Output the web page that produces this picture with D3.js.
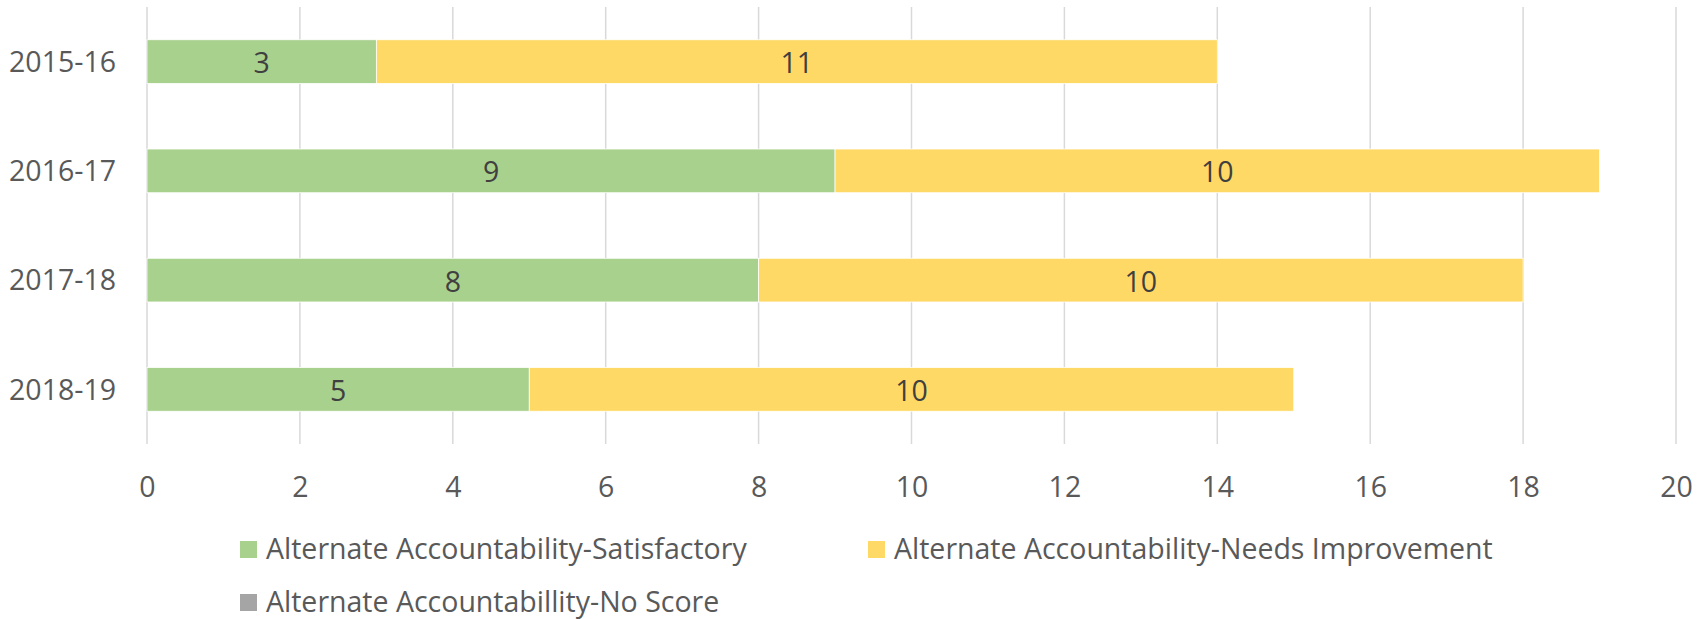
<!DOCTYPE html>
<html>
<head>
<meta charset="utf-8">
<script src="https://cdn.jsdelivr.net/npm/d3@7"></script>
<style>
  body { margin: 0; background: #fff; }
  text { font-family: "Open Sans", "Noto Sans", sans-serif; }
</style>
</head>
<body>
<script>
// chart data
var categories = ["2015-16", "2016-17", "2017-18", "2018-19"];
var seriesNames = [
  "Alternate Accountability-Satisfactory",
  "Alternate Accountability-Needs Improvement",
  "Alternate Accountabillity-No Score"
];
var satisfactory = [3, 9, 8, 5];
var needsImprovement = [11, 10, 10, 10];
var noScore = [0, 0, 0, 0];
var xTicks = [0, 2, 4, 6, 8, 10, 12, 14, 16, 18, 20];
var colors = ["#a9d18e", "#ffd966", "#a5a5a5"];

var W = 1707, H = 619;
var margin = {left: 147, right: 31, top: 7, bottom: 175};
var fontSize = 28.5;

var svg = d3.select("body").append("svg")
  .attr("width", W)
  .attr("height", H);

var x = d3.scaleLinear().domain([0, 20]).range([margin.left, W - margin.right]);
var y = d3.scaleBand().domain(categories)
  .range([margin.top, H - margin.bottom])
  .paddingInner(0.6).paddingOuter(0.3);

// gridlines
svg.append("g").selectAll("line").data(xTicks).enter().append("line")
  .attr("x1", function(d){ return x(d); })
  .attr("x2", function(d){ return x(d); })
  .attr("y1", margin.top)
  .attr("y2", H - margin.bottom)
  .attr("stroke", "#d9d9d9")
  .attr("stroke-width", 1.5);

// x axis labels (baseline ~497)
var xAxis = d3.axisBottom(x).tickValues(xTicks).tickSize(0).tickPadding(0);
var gx = svg.append("g")
  .attr("transform", "translate(0,497)")
  .call(xAxis);
gx.select(".domain").remove();
gx.selectAll("text")
  .attr("y", 0)
  .attr("dy", 0)
  .attr("font-size", fontSize)
  .attr("fill", "#595959")
  .style("font-family", "'Open Sans', sans-serif");

// y axis labels
var yAxis = d3.axisLeft(y).tickSize(0).tickPadding(31);
var gy = svg.append("g")
  .attr("transform", "translate(" + margin.left + ",0)")
  .call(yAxis);
gy.select(".domain").remove();
gy.selectAll("text")
  .attr("font-size", fontSize)
  .attr("fill", "#595959")
  .attr("dy", "0.36em")
  .style("font-family", "'Open Sans', sans-serif");

// stacked series
var rows = categories.map(function(c, i){
  return {cat: c, s0: satisfactory[i], s1: needsImprovement[i], s2: noScore[i]};
});
var stack = d3.stack().keys(["s0", "s1", "s2"]);
var layers = stack(rows);

var layer = svg.append("g").selectAll("g").data(layers).enter().append("g")
  .attr("fill", function(d, i){ return colors[i]; });

layer.selectAll("rect").data(function(d){ return d; }).enter().append("rect")
  .attr("x", function(d){ return x(d[0]); })
  .attr("y", function(d){ return y(d.data.cat); })
  .attr("width", function(d){ return x(d[1]) - x(d[0]); })
  .attr("height", y.bandwidth())
  .attr("stroke", "#fff")
  .attr("stroke-width", 0.75);

// data labels (skip zero values)
layer.selectAll("text").data(function(d){ return d; }).enter()
  .filter(function(d){ return d[1] - d[0] > 0; })
  .append("text")
  .attr("x", function(d){ return (x(d[0]) + x(d[1])) / 2; })
  .attr("y", function(d){ return y(d.data.cat) + y.bandwidth() / 2; })
  .attr("dy", "0.4em")
  .attr("text-anchor", "middle")
  .attr("font-size", fontSize)
  .attr("fill", "#404040")
  .text(function(d){ return d[1] - d[0]; });

// legend (two columns)
var legendX = 240, legendColW = 628, legendY = 559, legendRowH = 53;
var legend = svg.append("g").selectAll("g").data(seriesNames).enter().append("g")
  .attr("transform", function(d, i){
    return "translate(" + (legendX + (i % 2) * legendColW) + "," + (legendY + Math.floor(i / 2) * legendRowH) + ")";
  });
legend.append("rect")
  .attr("x", 0).attr("y", -18)
  .attr("width", 17).attr("height", 17)
  .attr("fill", function(d, i){ return colors[i]; });
legend.append("text")
  .attr("x", 26)
  .attr("font-size", fontSize)
  .attr("fill", "#595959")
  .text(function(d){ return d; });
</script>
</body>
</html>
